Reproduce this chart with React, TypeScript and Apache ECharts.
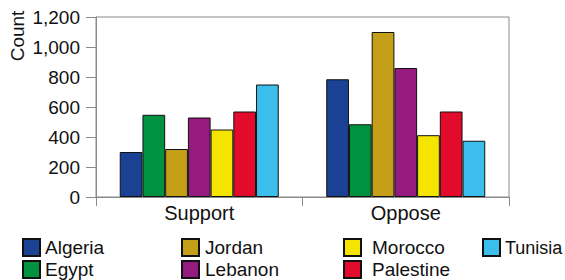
import React, { useEffect, useRef } from "react";
import * as echarts from "echarts";

const categories = ["Support", "Oppose"];
const countries = ["Algeria", "Egypt", "Jordan", "Lebanon", "Morocco", "Palestine", "Tunisia"];
const algeria = [300, 785];
const egypt = [548, 485];
const jordan = [320, 1100];
const lebanon = [530, 860];
const morocco = [450, 412];
const palestine = [570, 570];
const tunisia = [750, 375];
const yTicks = [0, 200, 400, 600, 800, 1000, 1200];
const colors = ["#1a4193", "#00923f", "#c59f17", "#961b7f", "#f5e400", "#e30b2b", "#3cbeed"];

const seriesValues = [algeria, egypt, jordan, lebanon, morocco, palestine, tunisia];
// legend placement: column index and row index per country
const legendCol = [0, 0, 1, 1, 2, 2, 3];
const legendRow = [0, 1, 0, 1, 0, 1, 0];
const legendLefts = [22, 181, 343, 482];
const legendTops = [238, 260];
const legendPadLeft = [0, 1, 6, 0];
const legendFontSize = [19, 19, 19, 18];

const FONT = "'Liberation Sans', Arial, Helvetica, sans-serif";

export default function App() {
  const ref = useRef<HTMLDivElement>(null);
  useEffect(() => {
    if (!ref.current) return;
    const chart = echarts.init(ref.current, null, { renderer: "svg" });
    const axisColor = "#8a8a8a";
    chart.setOption({
      animation: false,
      textStyle: { fontFamily: FONT },
      grid: {
        left: 96,
        right: 56,
        top: 17,
        bottom: 83,
        show: true,
        borderColor: axisColor,
        borderWidth: 1,
        backgroundColor: "transparent",
      },
      legend: countries.map((name, i) => ({
        data: [name],
        orient: "horizontal",
        left: legendLefts[legendCol[i]],
        top: legendTops[legendRow[i]],
        padding: 0,
        itemWidth: 17,
        itemHeight: 17,
        icon: "rect",
        selectedMode: false,
        textStyle: {
          fontFamily: FONT,
          fontSize: legendFontSize[legendCol[i]],
          color: "#111",
          lineHeight: 17,
          padding: [0, 0, 0, legendPadLeft[legendCol[i]]],
        },
      })),
      xAxis: {
        type: "category",
        data: categories,
        axisLine: { show: true, lineStyle: { color: axisColor, width: 1 } },
        axisTick: { show: true, length: 9, lineStyle: { color: axisColor } },
        axisLabel: { fontFamily: FONT, fontSize: 20, color: "#111", margin: 6 },
        splitLine: { show: false },
      },
      yAxis: {
        type: "value",
        min: yTicks[0],
        max: yTicks[yTicks.length - 1],
        interval: 200,
        axisLine: { show: true, lineStyle: { color: axisColor, width: 1 } },
        axisTick: { show: true, length: 10, lineStyle: { color: axisColor } },
        axisLabel: {
          fontFamily: FONT,
          fontSize: 19,
          color: "#111",
          margin: 16,
          formatter: (v: number) => v.toLocaleString("en-US"),
        },
        splitLine: { show: false },
      },
      graphic: [
        {
          type: "text",
          x: 17,
          y: 36,
          rotation: Math.PI / 2,
          style: {
            text: "Count",
            fontFamily: FONT,
            fontSize: 19,
            fill: "#111",
            textAlign: "center",
            textVerticalAlign: "middle",
          },
        },
      ],
      series: countries.map((name, i) => ({
        name,
        type: "bar",
        data: seriesValues[i],
        barGap: "0%",
        barCategoryGap: "23%",
        itemStyle: { color: colors[i], borderColor: "#111", borderWidth: 1 },
      })),
    });
    return () => chart.dispose();
  }, []);
  return (
    <div
      ref={ref}
      style={{ position: "fixed", left: 0, top: 0, width: 565, height: 280, background: "#fff" }}
    />
  );
}
